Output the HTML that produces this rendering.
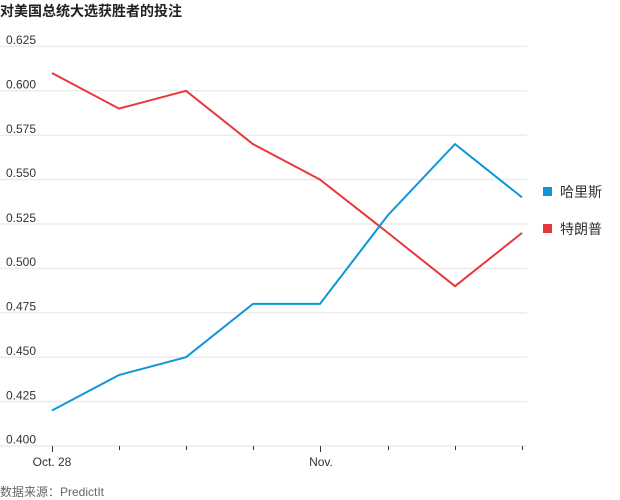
<!DOCTYPE html>
<html><head><meta charset="utf-8"><style>
body{margin:0;background:#fff;}
svg{display:block;font-family:"Liberation Sans","Noto Sans CJK SC",sans-serif;}
</style></head><body>
<svg width="620" height="500" viewBox="0 0 620 500">
<text x="0" y="16" font-size="14" font-weight="bold" fill="#222">对美国总统大选获胜者的投注</text>
<g stroke="#ececec" stroke-width="1.5">
<line x1="0" x2="527" y1="46.4" y2="46.4"/><line x1="0" x2="527" y1="90.8" y2="90.8"/>
<line x1="0" x2="527" y1="135.2" y2="135.2"/><line x1="0" x2="527" y1="179.6" y2="179.6"/>
<line x1="0" x2="527" y1="224" y2="224"/><line x1="0" x2="527" y1="268.4" y2="268.4"/>
<line x1="0" x2="527" y1="312.8" y2="312.8"/><line x1="0" x2="527" y1="357.2" y2="357.2"/>
<line x1="0" x2="527" y1="401.6" y2="401.6"/><line x1="0" x2="527" y1="446" y2="446"/>
</g>
<g font-size="12" fill="#333">
<text x="6" y="44">0.625</text><text x="6" y="88.5">0.600</text><text x="6" y="133">0.575</text>
<text x="6" y="177">0.550</text><text x="6" y="222">0.525</text><text x="6" y="266">0.500</text>
<text x="6" y="310.5">0.475</text><text x="6" y="355">0.450</text><text x="6" y="399.5">0.425</text>
<text x="6" y="443.5">0.400</text>
</g>
<g stroke="#333" stroke-width="1">
<line x1="52.5" x2="52.5" y1="446" y2="452"/><line x1="119.5" x2="119.5" y1="446" y2="450"/>
<line x1="186.5" x2="186.5" y1="446" y2="450"/><line x1="253.5" x2="253.5" y1="446" y2="450"/>
<line x1="320.5" x2="320.5" y1="446" y2="452"/><line x1="388.5" x2="388.5" y1="446" y2="450"/>
<line x1="455.5" x2="455.5" y1="446" y2="450"/><line x1="522.5" x2="522.5" y1="446" y2="450"/>
</g>
<text x="52" y="466" font-size="12" fill="#333" text-anchor="middle">Oct. 28</text>
<text x="321" y="466" font-size="12" fill="#333" text-anchor="middle">Nov.</text>
<text x="0" y="496" font-size="12" fill="#666">数据来源：PredictIt</text>
<polyline fill="none" stroke="#e8383d" stroke-width="2" points="52,73 119,108.6 186,90.8 253,144.1 320,179.6 388,232.9 455,286.2 522,232.9"/>
<polyline fill="none" stroke="#0d96d8" stroke-width="2" points="52,410.5 119,375 186,357.2 253,303.9 320,303.9 388,215.1 455,144.1 522,197.4"/>
<rect x="543" y="187" width="9" height="9" fill="#0d96d8"/>
<text x="560" y="197" font-size="14" fill="#333">哈里斯</text>
<rect x="543" y="224" width="9" height="9" fill="#e8383d"/>
<text x="560" y="234" font-size="14" fill="#333">特朗普</text>
</svg>
</body></html>
